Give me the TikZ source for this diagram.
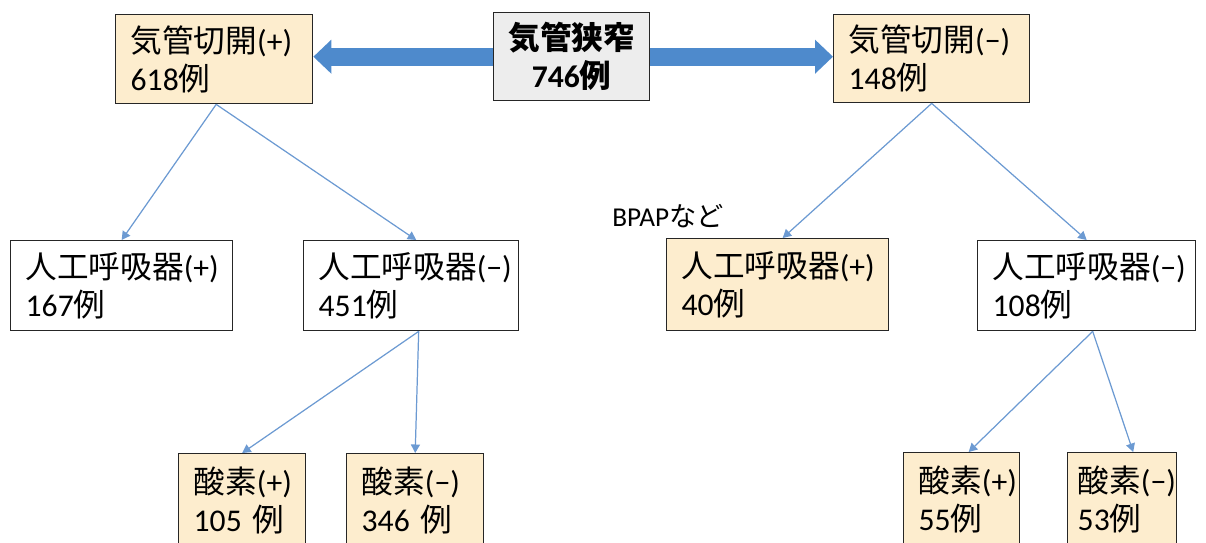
\documentclass[tikz,border=0pt]{standalone}
\usepackage{fontspec}
\setmainfont{Carlito}
\newfontfamily\jp{Noto Sans CJK JP}
\usetikzlibrary{arrows.meta}
\definecolor{peach}{RGB}{253,237,206}
\definecolor{rootgray}{RGB}{237,237,237}
\definecolor{fatblue}{RGB}{78,138,204}
\definecolor{thinblue}{RGB}{108,154,210}

\begin{document}
\begin{tikzpicture}[x=0.02cm,y=-0.02cm]
\tikzstyle{every node}+=[font=\fontsize{18}{21.5}\selectfont]
\tikzset{
  box/.style={draw=black!85, line width=0.8pt, anchor=north west, align=left,
    inner xsep=0.30cm, inner ysep=0pt, text width=#1},
  obox/.style={box=#1, fill=peach},
  wbox/.style={box=#1, fill=white},
  fat/.style={fatblue, line width=0.36cm, -{Triangle[width=0.66cm,length=0.36cm]}},
  thin/.style={thinblue, line width=0.7pt, -{Triangle[width=0.18cm,length=0.17cm]}}
}
\useasboundingbox (0,0) rectangle (1206,542);
% top row
\node[box=2.52cm, fill=rootgray, align=center, minimum height=1.76cm,
  font=\fontsize{18}{21.5}\selectfont\bfseries] (root) at (493,12) {{\jp 気管狭窄}\\746{\jp 例}};
\node[obox=3.34cm, minimum height=1.78cm] (tl) at (115,14) {{\jp 気管切開}(+)\\618{\jp 例}};
\node[obox=3.32cm, minimum height=1.76cm] (tr) at (833,14) {{\jp 気管切開}(−)\\148{\jp 例}};
\draw[fat] (root.west) -- (root.west -| tl.east);
\draw[fat] (root.east) -- (root.east -| tr.west);
% second row
\node[wbox=3.84cm, minimum height=1.80cm] (a) at (10,240) {{\jp 人工呼吸器}(+)\\167{\jp 例}};
\node[wbox=3.70cm, minimum height=1.80cm] (b) at (303,240) {{\jp 人工呼吸器}(−)\\451{\jp 例}};
\node[obox=3.84cm, minimum height=1.84cm] (c) at (666,238) {{\jp 人工呼吸器}(+)\\40{\jp 例}};
\node[wbox=3.76cm, minimum height=1.80cm] (d) at (977,240) {{\jp 人工呼吸器}(−)\\108{\jp 例}};
\node[anchor=base west, inner sep=0pt, font=\fontsize{15.5}{18}\selectfont] (bpap) at (612,226) {BPAP{\jp など}};
% third row
\node[obox=1.94cm, minimum height=1.86cm] (e) at (178,453) {{\jp 酸素}(+)\\105 {\jp 例}};
\node[obox=2.14cm, minimum height=1.86cm] (f) at (346,453) {{\jp 酸素}(−)\\346 {\jp 例}};
\node[obox=1.72cm, minimum height=1.86cm] (g) at (903,452) {{\jp 酸素}(+)\\55{\jp 例}};
\node[obox=1.78cm, minimum height=1.86cm, inner xsep=0.2cm] (h) at (1067,452) {{\jp 酸素}(−)\\53{\jp 例}};
% connectors
\draw[thin] ([xshift=0.04cm]tl.south) -- (a.north);
\draw[thin] ([xshift=0.04cm]tl.south) -- ([xshift=0.1cm]b.north);
\draw[thin] (tr.south) -- ([xshift=0.1cm]c.north);
\draw[thin] (tr.south) -- (d.north);
\draw[thin] ([xshift=0.15cm]b.south) -- (e.north);
\draw[thin] ([xshift=0.15cm]b.south) -- (f.north);
\draw[thin] ([xshift=0.12cm]d.south) -- ([xshift=0.14cm]g.north);
\draw[thin] ([xshift=0.12cm]d.south) -- ([xshift=0.22cm]h.north);
\end{tikzpicture}
\end{document}
